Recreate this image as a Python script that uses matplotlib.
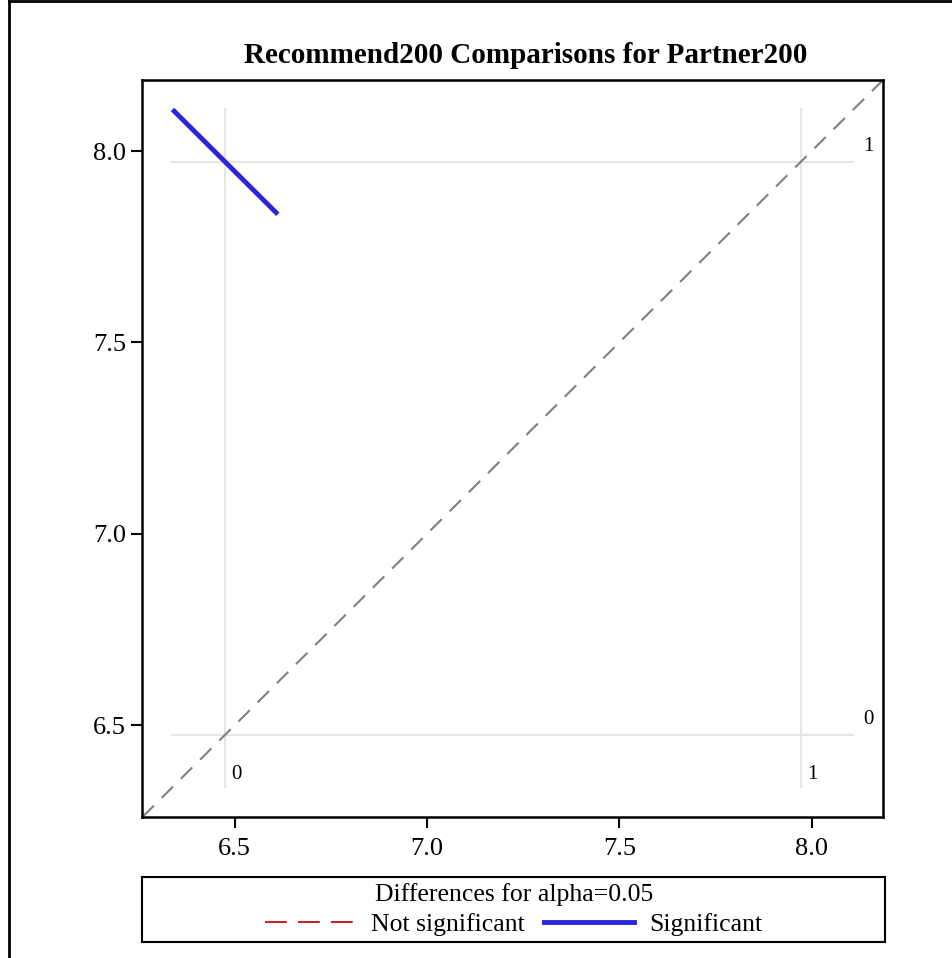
import matplotlib
matplotlib.use("Agg")
import matplotlib.pyplot as plt
from matplotlib.lines import Line2D

plt.rcParams['font.family'] = ['Liberation Serif', 'DejaVu Serif']

# LS-means of Recommend200 for the two Partner200 levels
levels = ['0', '1']
lsmeans = [6.475, 7.972]
# half-length of the difference interval (drawn along the -45 degree direction)
half_ci = 0.137
significant = True

axis_lim = (6.26, 8.186)
ticks = [6.5, 7.0, 7.5, 8.0]
title = 'Recommend200 Comparisons for Partner200'
legend_title = 'Differences for alpha=0.05'
legend_labels = ['Not significant', 'Significant']

blue = '#2a25d9'
red = '#c1272d'

fig = plt.figure(figsize=(9.53, 9.58), dpi=100)
ax = fig.add_axes([0.1495, 0.1472, 0.7771, 0.7693])

lo, hi = axis_lim
ax.set_xlim(lo, hi)
ax.set_ylim(lo, hi)

# extent of the reference grid follows the comparison segment
seg_lo = lsmeans[0] - half_ci
seg_hi = lsmeans[1] + half_ci

for m, lab in zip(lsmeans, levels):
    ax.plot([m, m], [seg_lo, seg_hi], color='#e6e6e6', lw=1.5, zorder=1)
    ax.plot([seg_lo, seg_hi], [m, m], color='#e6e6e6', lw=1.5, zorder=1)
    ax.text(m + 0.016, seg_lo + 0.033, lab, fontsize=15, ha='left', va='center')
    ax.text(seg_hi + 0.025, m + 0.04, lab, fontsize=15, ha='left', va='center')

# diagonal y = x
ax.plot([lo, hi], [lo, hi], color='#808080', lw=1.5, ls=(0, (7.7, 5.3)), zorder=2)

# comparison segment centred on (mean of level 0, mean of level 1)
cx, cy = lsmeans[0], lsmeans[1]
ax.plot([cx - half_ci, cx + half_ci], [cy + half_ci, cy - half_ci],
        color=blue if significant else red, lw=3.5,
        ls='-' if significant else '--', solid_capstyle='butt', zorder=3)

ax.set_xticks(ticks)
ax.set_yticks(ticks)
ax.set_xticklabels([f'{t:.1f}' for t in ticks])
ax.set_yticklabels([f'{t:.1f}' for t in ticks])
ax.tick_params(labelsize=19, length=8, width=1.5, direction='out')
ax.tick_params(axis='x', pad=7)
ax.tick_params(axis='y', pad=4)
for s in ax.spines.values():
    s.set_linewidth(1.8)

ax.set_title(title, fontsize=21, fontweight='bold', pad=12, x=0.518)

# legend panel below the plot
lax = fig.add_axes([0.1495, 0.0167, 0.779, 0.0678])
lax.set_xticks([])
lax.set_yticks([])
for s in lax.spines.values():
    s.set_linewidth(1.5)
handles = [Line2D([], [], color=red, lw=1.5, ls=(0, (10.5, 5.3))),
           Line2D([], [], color=blue, lw=3.5)]
leg = lax.legend(handles, legend_labels, loc='center', ncol=2, title=legend_title,
                 frameon=False, fontsize=18.5, title_fontsize=18.5, handlelength=3.5,
                 handletextpad=0.6, columnspacing=0.75, borderpad=0.05, labelspacing=0.3)

# outer page border on the top and left
fig.add_artist(Line2D([0.0095, 0.0095], [0, 0.999], color='black', lw=2,
                      transform=fig.transFigure))
fig.add_artist(Line2D([0.0095, 1.0], [0.999, 0.999], color='black', lw=2,
                      transform=fig.transFigure))

fig.savefig('out.png', dpi=100)
